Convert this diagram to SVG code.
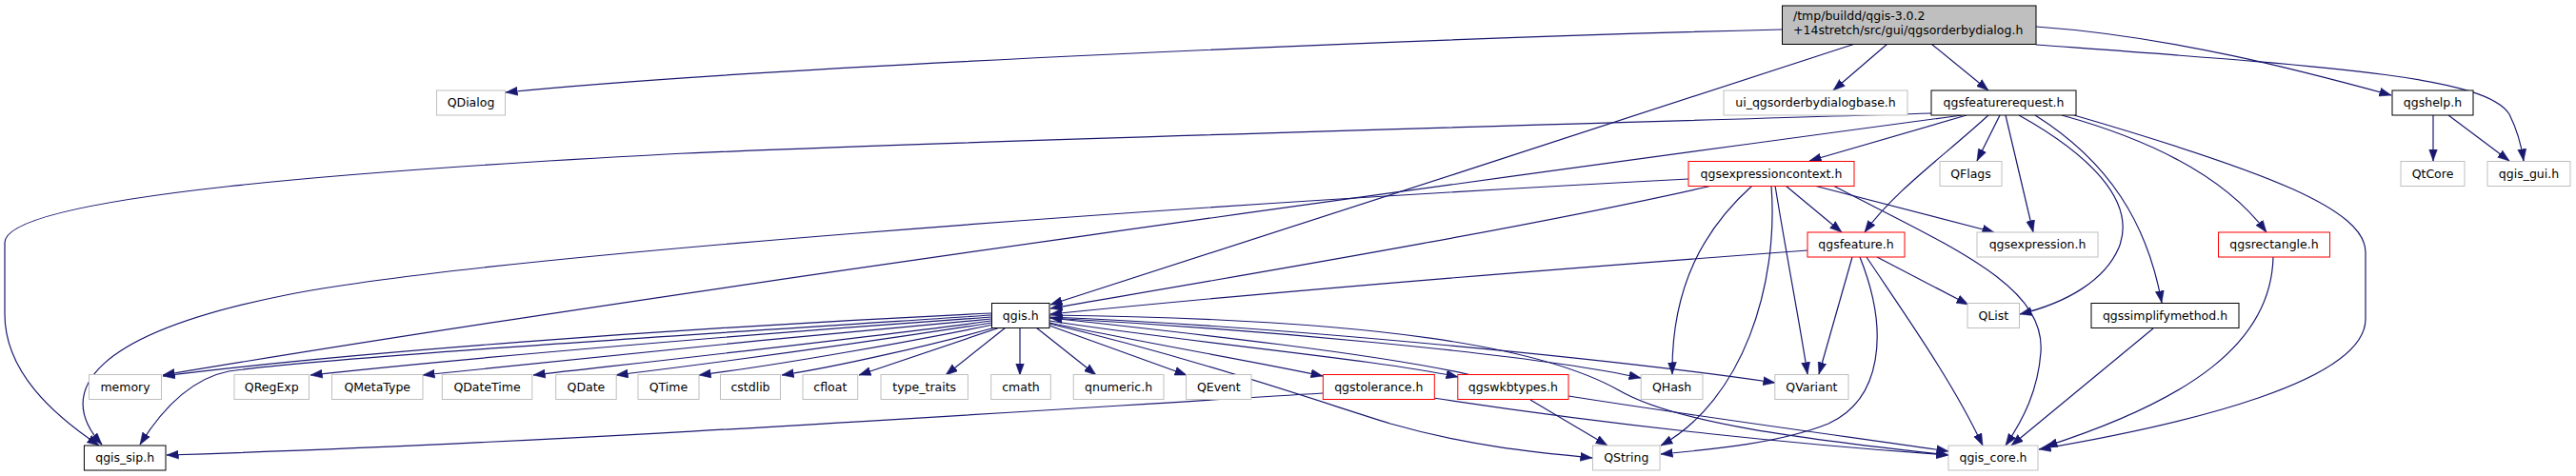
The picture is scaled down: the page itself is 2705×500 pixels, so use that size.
<svg xmlns="http://www.w3.org/2000/svg" width="2705" height="500" viewBox="0 0 2705 500">
<style>
text{font-family:"DejaVu Sans","Liberation Sans",sans-serif;font-size:12.5px;fill:#000;text-anchor:middle}
.n rect{fill:#fff;stroke-width:1}
.b rect{stroke:#000}
.g rect{stroke:#bfbfbf}
.r rect{stroke:#ff0000}
#edges path{fill:none;stroke:#191970;stroke-width:1.2;marker-end:url(#ah)}
</style>
<defs>
<marker id="ah" markerWidth="13" markerHeight="10" refX="12.5" refY="5" orient="auto" markerUnits="userSpaceOnUse">
<path d="M0,0.5 L12.5,5 L0,9.5 z" fill="#191970" stroke="#191970" stroke-width="0.5"/>
</marker>
</defs>
<rect width="2705" height="500" fill="#fff"/>
<g id="edges">
<path d="M1871,31 C1500,40 800,70 531,97"/>
<path d="M1982,46 L1925,95"/>
<path d="M2028,46 L2088,95"/>
<path d="M2138,28 C2280,38 2420,75 2511,100"/>
<path d="M2138,47 C2450,70 2610,80 2635,120 C2645,140 2648,155 2650,169"/>
<path d="M1948,46 C1700,128 1350,240 1103,320"/>
<path d="M2555,121 L2555,169"/>
<path d="M2571,121 L2635,169"/>
<path d="M2028,119 C1600,132 1000,148 700,162 C400,178 5,205 5,255 L5,330 C5,390 55,435 104,468"/>
<path d="M2060,121 C1600,183 700,305 171,394"/>
<path d="M2065,121 L1900,169"/>
<path d="M2088,121 C2040,165 1990,200 1958,244"/>
<path d="M2100,121 L2076,169"/>
<path d="M2106,121 L2135,244"/>
<path d="M2120,121 C2190,160 2245,210 2225,260 C2210,295 2170,318 2121,330"/>
<path d="M2137,121 C2215,170 2255,235 2270,318"/>
<path d="M2165,121 C2270,150 2340,190 2380,244"/>
<path d="M2178,121 C2380,180 2484,220 2484,265 L2484,335 C2484,400 2300,445 2141,472"/>
<path d="M1798,195 C1600,240 1300,290 1103,324"/>
<path d="M1840,195 C1790,240 1755,300 1756,393"/>
<path d="M1860,195 C1868,300 1830,420 1744,468"/>
<path d="M1864,195 C1878,280 1890,340 1898,393"/>
<path d="M1875,195 L1934,244"/>
<path d="M1905,195 C1980,215 2050,232 2094,244"/>
<path d="M1925,195 C2050,260 2148,300 2143,370 C2140,410 2125,440 2106,468"/>
<path d="M1773,188 C1200,218 500,270 300,310 C100,350 55,410 107,467"/>
<path d="M1898,263 C1600,285 1300,310 1103,330"/>
<path d="M1945,270 L1910,393"/>
<path d="M1953,270 C1985,350 1975,420 1920,445 C1870,465 1800,472 1744,477"/>
<path d="M1960,270 C2000,330 2050,400 2082,468"/>
<path d="M1971,270 L2067,320"/>
<path d="M1041,329 C700,345 350,372 171,395"/>
<path d="M1041,331 C750,350 350,375 240,390 C200,398 170,430 147,467"/>
<path d="M1041,333 C800,350 500,375 326,394"/>
<path d="M1041,335 C850,352 600,377 444,394"/>
<path d="M1041,337 C900,356 700,378 560,394"/>
<path d="M1042,339 C920,358 760,380 647,394"/>
<path d="M1043,341 C950,360 820,383 734,394"/>
<path d="M1045,344 C980,362 880,385 821,394"/>
<path d="M1050,344 L902,394"/>
<path d="M1056,344 L993,394"/>
<path d="M1071,344 L1071,394"/>
<path d="M1088,344 L1151,394"/>
<path d="M1102,342 L1246,394"/>
<path d="M1102,339 C1200,360 1320,380 1389,395"/>
<path d="M1102,337 C1250,360 1450,378 1531,396"/>
<path d="M1545,394 C1450,372 1250,350 1103,334"/>
<path d="M1102,334 C1300,345 1600,370 1723,397"/>
<path d="M1102,333 C1350,343 1700,378 1864,402"/>
<path d="M1102,331 C1450,335 1620,365 1700,410 C1760,445 1900,462 2046,478"/>
<path d="M1102,340 C1250,375 1380,420 1460,445 C1540,468 1610,475 1672,481"/>
<path d="M1389,413 C1100,430 600,465 175,478"/>
<path d="M1505,418 C1700,448 1900,468 2046,478"/>
<path d="M1647,416 C1800,440 1950,460 2046,474"/>
<path d="M1607,420 L1688,468"/>
<path d="M2387,270 C2385,360 2300,420 2148,469"/>
<path d="M2261,345 L2112,468"/>
</g>
<g id="root" class="n b"><rect x="1871.5" y="6" width="266.5" height="40.5" style="fill:#bfbfbf"/><text x="1883" y="21" style="text-anchor:start">/tmp/buildd/qgis-3.0.2</text><text x="1883" y="36" style="text-anchor:start">+14stretch/src/gui/qgsorderbydialog.h</text></g>
<g id="QDialog" class="n g"><rect x="458.5" y="95" width="72" height="26"/><text x="494.5" y="112">QDialog</text></g>
<g id="ui_qgsorderbydialogbase" class="n g"><rect x="1810" y="95" width="193" height="26"/><text x="1906.5" y="112">ui_qgsorderbydialogbase.h</text></g>
<g id="qgsfeaturerequest" class="n b"><rect x="2028" y="95" width="152" height="26"/><text x="2104" y="112">qgsfeaturerequest.h</text></g>
<g id="qgshelp" class="n b"><rect x="2512" y="95" width="85" height="26"/><text x="2554.5" y="112">qgshelp.h</text></g>
<g id="qgsexpressioncontext" class="n r"><rect x="1773" y="169.5" width="174" height="26"/><text x="1860" y="186.5">qgsexpressioncontext.h</text></g>
<g id="QFlags" class="n g"><rect x="2037" y="169.5" width="65" height="26"/><text x="2069.5" y="186.5">QFlags</text></g>
<g id="QtCore" class="n g"><rect x="2521" y="169.5" width="67" height="26"/><text x="2554.5" y="186.5">QtCore</text></g>
<g id="qgis_gui" class="n g"><rect x="2612" y="169.5" width="87" height="26"/><text x="2655.5" y="186.5">qgis_gui.h</text></g>
<g id="qgsfeature" class="n r"><rect x="1898" y="244" width="102" height="26"/><text x="1949" y="261">qgsfeature.h</text></g>
<g id="qgsexpression" class="n g"><rect x="2076" y="244" width="127" height="26"/><text x="2139.5" y="261">qgsexpression.h</text></g>
<g id="qgsrectangle" class="n r"><rect x="2329.5" y="244" width="117" height="26"/><text x="2388" y="261">qgsrectangle.h</text></g>
<g id="qgis" class="n b"><rect x="1041.5" y="318.5" width="60.5" height="26"/><text x="1071.75" y="335.5">qgis.h</text></g>
<g id="QList" class="n g"><rect x="2066" y="318.5" width="54.5" height="26"/><text x="2093.25" y="335.5">QList</text></g>
<g id="qgssimplifymethod" class="n b"><rect x="2196" y="318.5" width="155" height="26"/><text x="2273.5" y="335.5">qgssimplifymethod.h</text></g>
<g id="memory" class="n g"><rect x="93.5" y="393.5" width="76" height="26"/><text x="131.5" y="410.5">memory</text></g>
<g id="QRegExp" class="n g"><rect x="246" y="393.5" width="78.5" height="26"/><text x="285.25" y="410.5">QRegExp</text></g>
<g id="QMetaType" class="n g"><rect x="348.5" y="393.5" width="95.5" height="26"/><text x="396.25" y="410.5">QMetaType</text></g>
<g id="QDateTime" class="n g"><rect x="464.3" y="393.5" width="94.5" height="26"/><text x="511.55" y="410.5">QDateTime</text></g>
<g id="QDate" class="n g"><rect x="583.7" y="393.5" width="63.5" height="26"/><text x="615.45" y="410.5">QDate</text></g>
<g id="QTime" class="n g"><rect x="670" y="393.5" width="64" height="26"/><text x="702" y="410.5">QTime</text></g>
<g id="cstdlib" class="n g"><rect x="756.5" y="393.5" width="63" height="26"/><text x="788" y="410.5">cstdlib</text></g>
<g id="cfloat" class="n g"><rect x="843" y="393.5" width="57.7" height="26"/><text x="871.85" y="410.5">cfloat</text></g>
<g id="type_traits" class="n g"><rect x="925" y="393.5" width="91.4" height="26"/><text x="970.7" y="410.5">type_traits</text></g>
<g id="cmath" class="n g"><rect x="1040.7" y="393.5" width="62.6" height="26"/><text x="1072" y="410.5">cmath</text></g>
<g id="qnumeric" class="n g"><rect x="1127.2" y="393.5" width="94.8" height="26"/><text x="1174.6" y="410.5">qnumeric.h</text></g>
<g id="QEvent" class="n g"><rect x="1245.5" y="393.5" width="68.5" height="26"/><text x="1279.75" y="410.5">QEvent</text></g>
<g id="qgstolerance" class="n r"><rect x="1389.3" y="393.5" width="117" height="26"/><text x="1447.8" y="410.5">qgstolerance.h</text></g>
<g id="qgswkbtypes" class="n r"><rect x="1530.8" y="393.5" width="116.2" height="26"/><text x="1588.9" y="410.5">qgswkbtypes.h</text></g>
<g id="QHash" class="n g"><rect x="1723.2" y="393.5" width="64.8" height="26"/><text x="1755.6" y="410.5">QHash</text></g>
<g id="QVariant" class="n g"><rect x="1863.8" y="393.5" width="77.2" height="26"/><text x="1902.4" y="410.5">QVariant</text></g>
<g id="qgis_sip" class="n b"><rect x="88.4" y="468" width="85.6" height="26"/><text x="131.2" y="485">qgis_sip.h</text></g>
<g id="QString" class="n g"><rect x="1672.5" y="468" width="70.5" height="26"/><text x="1707.75" y="485">QString</text></g>
<g id="qgis_core" class="n g"><rect x="2046" y="468" width="94" height="26"/><text x="2093" y="485">qgis_core.h</text></g>
</svg>
